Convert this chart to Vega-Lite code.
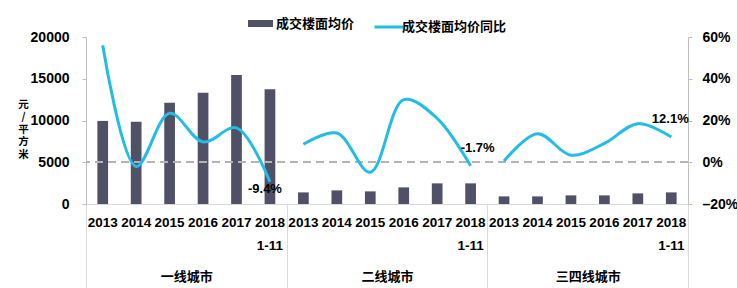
{
  "$schema": "https://vega.github.io/schema/vega-lite/v6.json",
  "width": 602,
  "height": 167,
  "autosize": {"type": "none"},
  "padding": {"left": 86, "top": 37, "right": 49, "bottom": 84},
  "background": "white",
  "config": {
    "view": {"stroke": null},
    "locale": {"number": {"decimal": ".", "thousands": ",", "grouping": [3], "currency": ["", ""], "minus": "-"}}
  },
  "data": {
    "values": [
      {"tier": "一线城市", "year": "2013", "key": "一线城市2013", "price": 9950, "yoy": 0.56},
      {"tier": "一线城市", "year": "2014", "key": "一线城市2014", "price": 9850, "yoy": -0.02},
      {"tier": "一线城市", "year": "2015", "key": "一线城市2015", "price": 12130, "yoy": 0.235},
      {"tier": "一线城市", "year": "2016", "key": "一线城市2016", "price": 13330, "yoy": 0.097},
      {"tier": "一线城市", "year": "2017", "key": "一线城市2017", "price": 15450, "yoy": 0.165},
      {"tier": "一线城市", "year": "2018", "key": "一线城市2018", "price": 13730, "yoy": -0.094},
      {"tier": "二线城市", "year": "2013", "key": "二线城市2013", "price": 1390, "yoy": 0.086},
      {"tier": "二线城市", "year": "2014", "key": "二线城市2014", "price": 1630, "yoy": 0.14},
      {"tier": "二线城市", "year": "2015", "key": "二线城市2015", "price": 1510, "yoy": -0.048},
      {"tier": "二线城市", "year": "2016", "key": "二线城市2016", "price": 1990, "yoy": 0.30},
      {"tier": "二线城市", "year": "2017", "key": "二线城市2017", "price": 2470, "yoy": 0.21},
      {"tier": "二线城市", "year": "2018", "key": "二线城市2018", "price": 2470, "yoy": -0.017},
      {"tier": "三四线城市", "year": "2013", "key": "三四线城市2013", "price": 910, "yoy": 0.006},
      {"tier": "三四线城市", "year": "2014", "key": "三四线城市2014", "price": 910, "yoy": 0.137},
      {"tier": "三四线城市", "year": "2015", "key": "三四线城市2015", "price": 1030, "yoy": 0.034},
      {"tier": "三四线城市", "year": "2016", "key": "三四线城市2016", "price": 1030, "yoy": 0.09},
      {"tier": "三四线城市", "year": "2017", "key": "三四线城市2017", "price": 1270, "yoy": 0.185},
      {"tier": "三四线城市", "year": "2018", "key": "三四线城市2018", "price": 1390, "yoy": 0.121}
    ]
  },
  "resolve": {"scale": {"x": "independent", "y": "independent"}},
  "layer": [
    {
      "mark": {"type": "bar", "width": {"band": 0.32}},
      "encoding": {
        "x": {
          "field": "key", "type": "nominal", "sort": null,
          "scale": {"paddingInner": 0, "paddingOuter": 0},
          "axis": {
            "orient": "bottom", "title": null, "ticks": false, "domain": true,
            "domainColor": "#d9d9d9", "labelAngle": 0, "labelOverlap": false, "labelBound": false,
            "labelExpr": "slice(datum.value, -4) == '2018' ? ['2018', '1-11'] : slice(datum.value, -4)",
            "labelFont": "Liberation Sans", "labelFontWeight": "bold", "labelFontSize": 13.5,
            "labelColor": "#000000", "labelPadding": 11, "labelLineHeight": 23
          }
        },
        "y": {
          "field": "price", "type": "quantitative",
          "scale": {"domain": [0, 20000], "nice": false},
          "axis": {
            "orient": "left", "values": [0, 5000, 10000, 15000, 20000], "format": "d", "grid": false,
            "tickSize": 4, "tickColor": "#bfbfbf", "domainColor": "#bfbfbf", "labelPadding": 13,
            "labelFont": "Liberation Sans", "labelFontWeight": "bold", "labelFontSize": 14, "labelColor": "#000000",
            "title": ["元", "/", "平", "方", "米"], "titleAngle": 0, "titleX": -63, "titleY": 62,
            "titleBaseline": "top", "titleAlign": "center", "titleFont": "Noto Sans CJK SC",
            "titleFontSize": 10.5, "titleFontWeight": "bold", "titleLineHeight": 12.5, "titleColor": "#000000"
          }
        },
        "fill": {
          "datum": "成交楼面均价",
          "scale": {"range": ["#505066"]},
          "legend": {
            "orient": "none", "legendX": 162, "legendY": -26, "title": null, "padding": 0,
            "symbolType": "M-1,-0.28H1V0.28H-1Z", "symbolSize": 625, "symbolStrokeWidth": 0,
            "labelFont": "Noto Sans CJK SC", "labelFontWeight": "bold", "labelFontSize": 13,
            "labelColor": "#000000", "labelOffset": 3
          }
        }
      }
    },
    {
      "layer": [
        {
          "mark": {"type": "rule", "strokeDash": [8, 5], "color": "#b4b4b4", "strokeWidth": 1.5},
          "encoding": {"y": {"datum": 0, "type": "quantitative", "title": null}}
        },
        {
          "mark": {"type": "line", "strokeWidth": 3, "interpolate": "catmull-rom"},
          "encoding": {
            "x": {"field": "key", "type": "nominal", "sort": null, "scale": {"paddingInner": 0, "paddingOuter": 0}, "axis": null},
            "y": {
              "field": "yoy", "type": "quantitative", "title": null,
              "scale": {"domain": [-0.2, 0.6], "nice": false},
              "axis": {
                "orient": "right", "values": [-0.2, 0, 0.2, 0.4, 0.6], "format": ".0%", "grid": false,
                "labelExpr": "replace(datum.label, '-', '–')",
                "tickSize": 4, "tickColor": "#bfbfbf", "domainColor": "#bfbfbf", "labelPadding": 10,
                "labelFont": "Liberation Sans", "labelFontWeight": "bold", "labelFontSize": 14, "labelColor": "#000000"
              }
            },
            "detail": {"field": "tier"},
            "stroke": {
              "datum": "成交楼面均价同比",
              "scale": {"range": ["#22bde6"]},
              "legend": {
                "orient": "none", "legendX": 287, "legendY": -26, "title": null, "padding": 0,
                "symbolType": "stroke", "symbolSize": 841, "symbolStrokeWidth": 3,
                "labelFont": "Noto Sans CJK SC", "labelFontWeight": "bold", "labelFontSize": 13,
                "labelColor": "#000000", "labelOffset": -3
              }
            }
          }
        },
        {
          "transform": [{"filter": "datum.key == '一线城市2018'"}],
          "mark": {"type": "text", "dx": -5, "dy": 7, "font": "Liberation Sans", "fontWeight": "bold", "fontSize": 13, "color": "#000000"},
          "encoding": {
            "x": {"field": "key", "type": "nominal", "sort": null, "axis": null},
            "y": {"field": "yoy", "type": "quantitative", "title": null},
            "text": {"field": "yoy", "type": "quantitative", "format": ".1%"}
          }
        },
        {
          "transform": [{"filter": "datum.key == '二线城市2018'"}],
          "mark": {"type": "text", "dx": 7, "dy": -18, "font": "Liberation Sans", "fontWeight": "bold", "fontSize": 13, "color": "#000000"},
          "encoding": {
            "x": {"field": "key", "type": "nominal", "sort": null, "axis": null},
            "y": {"field": "yoy", "type": "quantitative", "title": null},
            "text": {"field": "yoy", "type": "quantitative", "format": ".1%"}
          }
        },
        {
          "transform": [{"filter": "datum.key == '三四线城市2018'"}],
          "mark": {"type": "text", "dx": -1, "dy": -18, "font": "Liberation Sans", "fontWeight": "bold", "fontSize": 13, "color": "#000000"},
          "encoding": {
            "x": {"field": "key", "type": "nominal", "sort": null, "axis": null},
            "y": {"field": "yoy", "type": "quantitative", "title": null},
            "text": {"field": "yoy", "type": "quantitative", "format": ".1%"}
          }
        }
      ]
    },
    {
      "mark": {"type": "tick", "opacity": 0},
      "encoding": {
        "x": {
          "field": "tier", "type": "nominal", "sort": null,
          "scale": {"paddingInner": 0, "paddingOuter": 0},
          "axis": {
            "orient": "bottom", "title": null, "domain": false, "tickBand": "extent",
            "tickSize": 84, "tickColor": "#d9d9d9", "tickWidth": 1, "labelAngle": 0,
            "labelPadding": -18, "labelFont": "Noto Sans CJK SC", "labelFontWeight": "bold",
            "labelFontSize": 13, "labelColor": "#000000"
          }
        }
      }
    }
  ]
}
